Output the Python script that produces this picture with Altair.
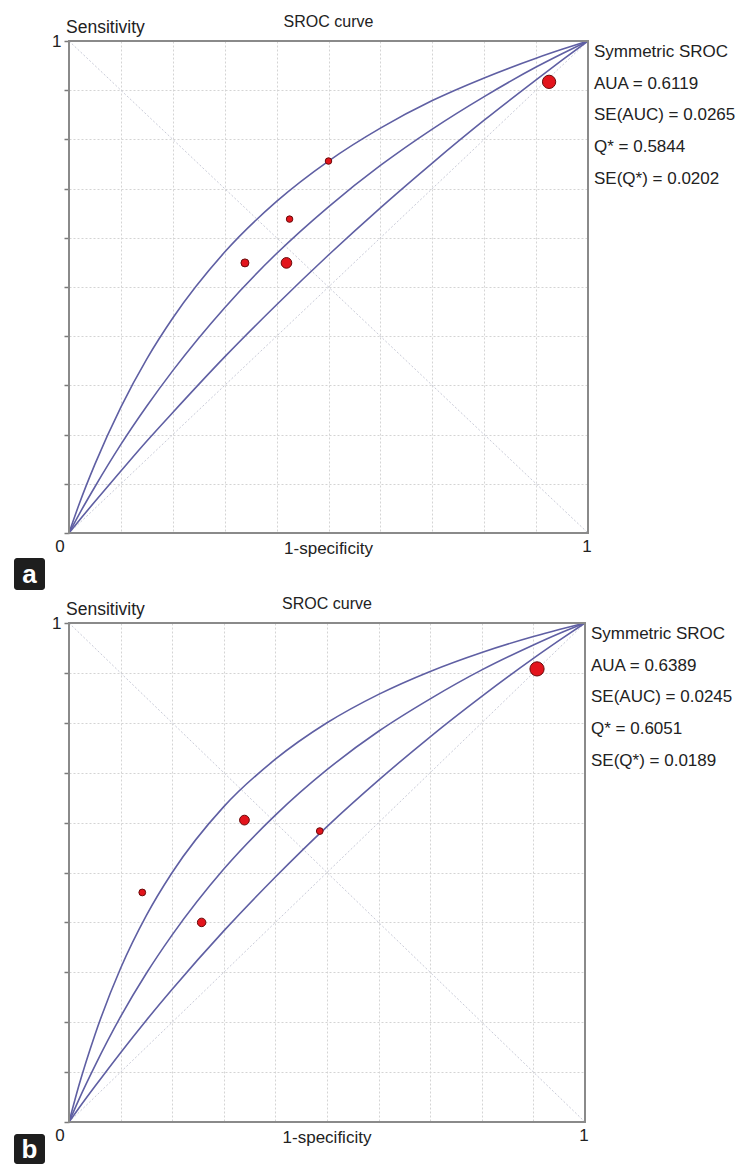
import altair as alt
import pandas as pd

FONT = "Liberation Sans"
TXT = "#222222"
CURVE = "#5f5fa3"

# ---------------- data ----------------
grid_vals = [0.0, 0.1, 0.2, 0.3, 0.4, 0.5, 0.6, 0.7, 0.8, 0.9, 1.0]

fpr_grid = [0.0, 0.02, 0.05, 0.1, 0.15, 0.2, 0.3, 0.4, 0.5, 0.6, 0.7, 0.8, 0.9, 0.95, 1.0]

# panel a curves (sensitivity at each fpr_grid value)
a_upper = [0.0, 0.060, 0.140, 0.256, 0.354, 0.437, 0.571, 0.674, 0.756, 0.823, 0.879, 0.925, 0.965, 0.983, 1.0]
a_mid = [0.0, 0.039, 0.094, 0.180, 0.258, 0.330, 0.458, 0.568, 0.663, 0.747, 0.821, 0.887, 0.947, 0.974, 1.0]
a_lower = [0.0, 0.026, 0.064, 0.126, 0.187, 0.245, 0.358, 0.464, 0.565, 0.661, 0.752, 0.839, 0.921, 0.961, 1.0]

# panel b curves
b_upper = [0.0, 0.076, 0.174, 0.308, 0.414, 0.500, 0.632, 0.727, 0.800, 0.857, 0.903, 0.941, 0.973, 0.987, 1.0]
b_mid = [0.0, 0.047, 0.112, 0.211, 0.298, 0.375, 0.507, 0.615, 0.706, 0.783, 0.848, 0.906, 0.956, 0.979, 1.0]
b_lower = [0.0, 0.029, 0.071, 0.139, 0.204, 0.266, 0.383, 0.491, 0.592, 0.685, 0.772, 0.853, 0.929, 0.965, 1.0]

# study points
a_pt_fpr = [0.925, 0.500, 0.425, 0.339, 0.419]
a_pt_tpr = [0.917, 0.756, 0.638, 0.549, 0.549]
a_pt_weight = [100, 24, 24, 36, 64]

b_pt_fpr = [0.907, 0.340, 0.486, 0.142, 0.257]
b_pt_tpr = [0.908, 0.605, 0.583, 0.460, 0.400]
b_pt_weight = [114, 54, 26, 26, 41]

a_stats = ["Symmetric SROC", "AUA = 0.6119", "SE(AUC) = 0.0265", "Q* = 0.5844", "SE(Q*) = 0.0202"]
b_stats = ["Symmetric SROC", "AUA = 0.6389", "SE(AUC) = 0.0245", "Q* = 0.6051", "SE(Q*) = 0.0189"]

curve_names = ["upper", "mid", "lower"]


def make_panel(letter, upper, mid, lower, pfpr, ptpr, pweight, stats, w, h, box_y0, box_y1):
    n = len(fpr_grid)
    curves = pd.DataFrame({
        "fpr": fpr_grid * 3,
        "tpr": upper + mid + lower,
        "curve": [curve_names[0]] * n + [curve_names[1]] * n + [curve_names[2]] * n,
    })
    diag = pd.DataFrame({"fpr": [0, 1, 0, 1], "tpr": [0, 1, 1, 0], "line": ["d1", "d1", "d2", "d2"]})
    pts = pd.DataFrame({"fpr": pfpr, "tpr": ptpr, "w": pweight})
    one = pd.DataFrame({"k": [0]})

    x_enc = alt.X("fpr:Q", scale=alt.Scale(domain=[0, 1], nice=False, zero=False),
                  axis=alt.Axis(values=grid_vals, labels=False, ticks=False, domain=False,
                                grid=True, gridColor="#d4d4d4", gridDash=[2, 2], gridWidth=1,
                                title=None))
    y_enc = alt.Y("tpr:Q", scale=alt.Scale(domain=[0, 1], nice=False, zero=False),
                  axis=alt.Axis(values=grid_vals, labelExpr="datum.value == 1 ? '1' : ''",
                                ticks=True, tickSize=5, tickColor="#7a7a7a", tickWidth=1.5,
                                domain=False, grid=True, gridColor="#d4d4d4", gridDash=[2, 2],
                                gridWidth=1, labelPadding=3, labelFontSize=17,
                                labelFont=FONT, labelColor=TXT, title=None))

    frame = alt.Chart(one).mark_rect(fill=None, filled=False, stroke="#8a8a8a", strokeWidth=2).encode(
        x=alt.value(0), x2=alt.value(w), y=alt.value(0), y2=alt.value(h))

    diag_layer = alt.Chart(diag).mark_line(color="#c9cbd8", strokeDash=[2, 2], strokeWidth=1).encode(
        x=x_enc, y=y_enc, detail="line:N")
    curve_layer = alt.Chart(curves).mark_line(color=CURVE, strokeWidth=1.6, interpolate="monotone").encode(
        x=x_enc, y=y_enc, detail="curve:N")
    pt_layer = alt.Chart(pts).mark_circle(color="#e3141c", opacity=1, stroke="#6a0a0a", strokeWidth=1).encode(
        x=x_enc, y=y_enc,
        size=alt.Size("w:Q", scale=alt.Scale(domain=[0, 100], range=[0, 177]), legend=None))

    def txt(text, x, y, size=16, align="center", baseline="middle", **kw):
        return alt.Chart(one).mark_text(font=FONT, fontSize=size, color=TXT, align=align,
                                        baseline=baseline, **kw).encode(
            x=alt.value(x), y=alt.value(y), text=alt.value(text))

    stats_layer = alt.Chart(one).mark_text(font=FONT, fontSize=17, color=TXT, align="left",
                                           baseline="top", lineBreak="\n", lineHeight=31.7).encode(
        x=alt.value(w + 6), y=alt.value(3), text=alt.value("\n".join(stats)))

    box = alt.Chart(one).mark_rect(color="#1e1e1e", cornerRadius=3).encode(
        x=alt.value(-55), x2=alt.value(-24), y=alt.value(box_y0), y2=alt.value(box_y1))
    box_txt = alt.Chart(one).mark_text(font=FONT, fontSize=26, fontWeight="bold", color="white",
                                       align="center", baseline="middle").encode(
        x=alt.value(-39.5), y=alt.value((box_y0 + box_y1) / 2 + 1), text=alt.value(letter))

    layers = [
        diag_layer, curve_layer, pt_layer, frame,
        txt("SROC curve", w / 2, -19, size=16),
        txt("Sensitivity", -3, -13, size=17.5, align="left"),
        txt("1-specificity", w / 2, h + 16, size=17),
        txt("0", -9, h + 14, size=17),
        txt("1", w - 1, h + 14, size=17),
        stats_layer, box, box_txt,
    ]
    return alt.layer(*layers).properties(width=w, height=h)


panel_a = make_panel("a", a_upper, a_mid, a_lower, a_pt_fpr, a_pt_tpr, a_pt_weight, a_stats,
                     519, 492, 517, 549)
panel_b = make_panel("b", b_upper, b_mid, b_lower, b_pt_fpr, b_pt_tpr, b_pt_weight, b_stats,
                     516, 499, 511, 541)

chart = alt.vconcat(panel_a, panel_b, spacing=4).properties(
    padding={"left": 5, "top": 5, "right": 0, "bottom": 5}
).configure_view(
    stroke=None
).configure(background="white")

chart.save("out.html", embed_options={"renderer": "svg", "actions": False})
